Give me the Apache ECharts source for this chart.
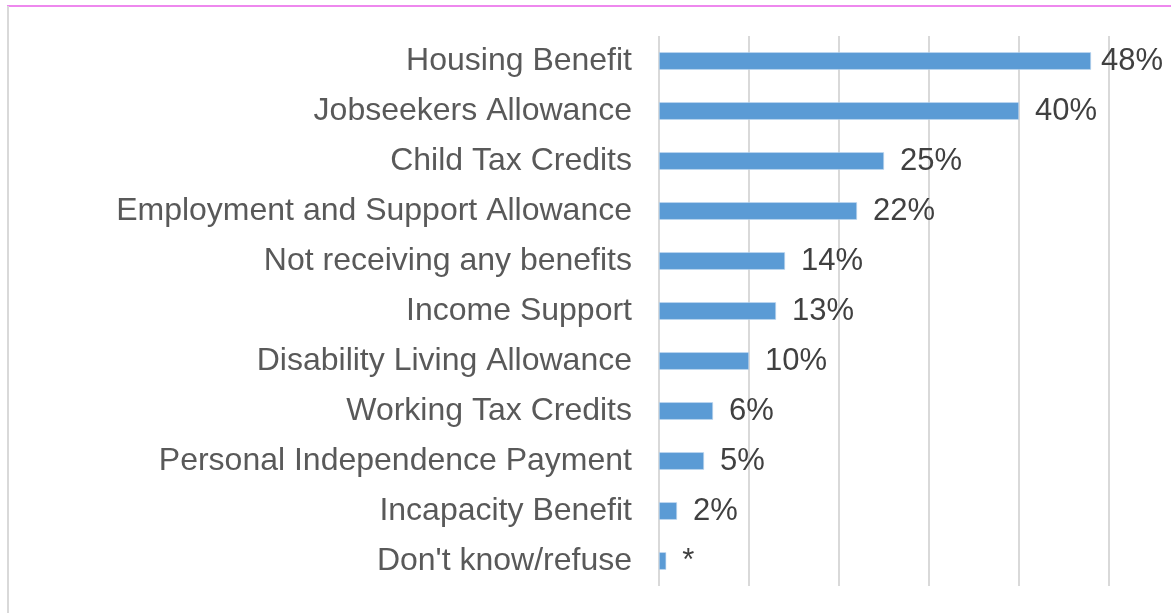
<!DOCTYPE html>
<html>
<head>
<meta charset="utf-8">
<script src="https://cdn.jsdelivr.net/npm/echarts@6/dist/echarts.min.js"></script>
<style>
  html, body { margin: 0; padding: 0; background: #ffffff; }
  #chart { width: 1171px; height: 613px; }
</style>
</head>
<body>
<div id="chart"></div>
<script>
// Benefits received (share of respondents), top to bottom
const categories = [
  'Housing Benefit',
  'Jobseekers Allowance',
  'Child Tax Credits',
  'Employment and Support Allowance',
  'Not receiving any benefits',
  'Income Support',
  'Disability Living Allowance',
  'Working Tax Credits',
  'Personal Independence Payment',
  'Incapacity Benefit',
  "Don't know/refuse"
];
const values = [48, 40, 25, 22, 14, 13, 10, 6, 5, 2, 0.8];
const valueLabels = ['48%', '40%', '25%', '22%', '14%', '13%', '10%', '6%', '5%', '2%', '*'];

const FONT = '"Liberation Sans", Arial, sans-serif';

const chart = echarts.init(document.getElementById('chart'), null, { renderer: 'canvas' });

const seriesData = values.map((v, i) => {
  const item = { value: v };
  // the longest bar sits near the right edge, so its label hugs the bar
  if (i === 0) item.label = { distance: 10 };
  return item;
});

chart.setOption({
  animation: false,
  backgroundColor: '#ffffff',
  graphic: [
    { type: 'line', shape: { x1: 7, y1: 6, x2: 1171, y2: 6 },
      style: { stroke: '#ee88ee', lineWidth: 2 } },
    { type: 'line', shape: { x1: 8, y1: 6, x2: 8, y2: 613 },
      style: { stroke: '#d9d9d9', lineWidth: 2 } }
  ],
  grid: { left: 659, right: 62, top: 36, bottom: 27, containLabel: false },
  xAxis: {
    type: 'value',
    min: 0,
    max: 50,
    interval: 10,
    axisLine: { show: false },
    axisTick: { show: false },
    axisLabel: { show: false },
    splitLine: { show: true, lineStyle: { color: '#d9d9d9', width: 2 } }
  },
  yAxis: {
    type: 'category',
    data: categories,
    inverse: true,
    axisLine: { show: false },
    axisTick: { show: false },
    axisLabel: {
      margin: 27,
      color: '#595959',
      fontFamily: FONT,
      fontSize: 32,
      padding: [4, 0, 0, 0]
    }
  },
  series: [{
    type: 'bar',
    data: seriesData,
    barWidth: 17.5,
    itemStyle: { color: '#5b9bd5', borderColor: '#c5daf0', borderWidth: 0.6 },
    label: {
      show: true,
      position: 'right',
      distance: 16,
      color: '#404040',
      fontFamily: FONT,
      fontSize: 31,
      padding: [4, 0, 0, 0],
      formatter: p => valueLabels[p.dataIndex]
    }
  }]
});
</script>
</body>
</html>
